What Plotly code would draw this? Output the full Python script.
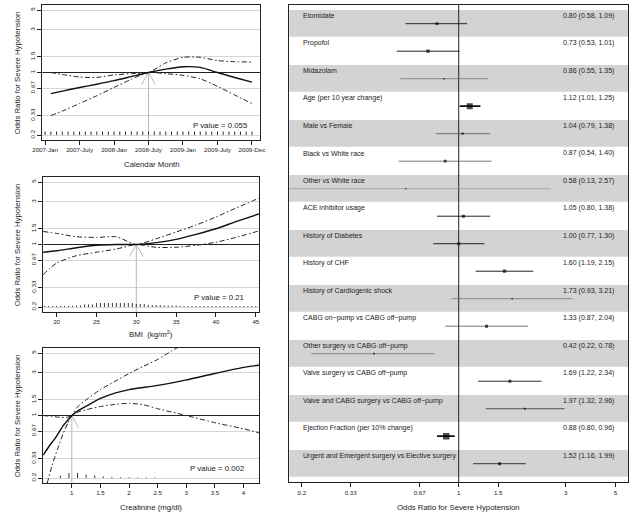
import plotly.graph_objects as go

W, H = 639, 517
FONT = "Liberation Sans, Arial, Helvetica, sans-serif"
INK = "#222222"

# ---------------- shared odds-ratio axis ----------------
or_ticks = [0.2, 0.33, 0.67, 1, 1.5, 3, 5]
or_tick_text = ["0.2", "0.33", "0.67", "1", "1.5", "3", "5"]
LOG_RANGE = [-0.7549, 0.7549]

# ---------------- panel 1 : calendar month ----------------
month_tick_pos = [0, 6, 12, 18, 24, 30, 36]
month_tick_text = ["2007-Jan", "2007-July", "2008-Jan", "2008-July", "2009-Jan", "2009-July", "2009-Dec"]
month_x = [1, 3, 6, 9, 12, 15, 18, 21, 24, 27, 30, 33, 36]
month_or = [0.58, 0.62, 0.68, 0.74, 0.81, 0.90, 1.00, 1.09, 1.16, 1.14, 1.00, 0.88, 0.78]
month_hi = [1.00, 0.95, 0.89, 0.88, 0.94, 0.97, 1.00, 1.28, 1.48, 1.48, 1.36, 1.32, 1.31]
month_lo = [0.33, 0.37, 0.45, 0.55, 0.68, 0.84, 1.00, 0.97, 0.93, 0.85, 0.70, 0.56, 0.45]
month_rug_x = [0, 1, 2, 3, 4, 5, 6, 7, 8, 9, 10, 11, 12, 13, 14, 15, 16, 17, 18,
               19, 20, 21, 22, 23, 24, 25, 26, 27, 28, 29, 30, 31, 32, 33, 34, 35, 36]
month_rug_h = [3.5] * 37
month_ref = 18
month_p = "P value = 0.055"

# ---------------- panel 2 : BMI ----------------
bmi_tick_pos = [20, 25, 30, 35, 40, 45]
bmi_x = [18.3, 20, 22.5, 25, 27.5, 30, 32.5, 35, 37.5, 40, 42.5, 45.4]
bmi_or = [0.82, 0.85, 0.92, 0.98, 1.00, 1.00, 1.05, 1.14, 1.30, 1.50, 1.80, 2.20]
bmi_hi = [1.40, 1.33, 1.22, 1.20, 1.22, 1.00, 1.16, 1.38, 1.65, 2.03, 2.55, 3.30]
bmi_lo = [0.46, 0.62, 0.75, 0.82, 0.89, 1.00, 0.93, 0.93, 0.98, 1.06, 1.20, 1.42]
bmi_rug_x = [18.5, 19, 19.5, 20, 20.5, 21, 21.5, 22, 22.5, 23, 23.5, 24, 24.5,
             25, 25.5, 26, 26.5, 27, 27.5, 28, 28.5, 29, 29.5, 30, 30.5, 31,
             31.5, 32, 32.5, 33, 33.5, 34, 34.5, 35, 35.5, 36, 36.5, 37, 37.5,
             38, 38.5, 39, 39.5, 40, 40.5, 41, 41.5, 42, 42.5, 43, 43.5, 44, 44.5, 45]
bmi_rug_h = [1, 1, 1, 1, 1, 1, 1, 1, 1.5, 1.5, 2.5, 2.5, 2.5,
             4, 4, 4, 4, 4, 4, 4, 4, 4, 4, 3, 3, 3,
             2, 2, 2, 2, 1.5, 1.5, 1.5, 1.5, 1, 1, 1, 1, 1,
             1, 1, 1, 1, 1, 1, 1, 1, 1, 1, 1, 1, 1, 1, 1]
bmi_ref = 30
bmi_p = "P value = 0.21"

# ---------------- panel 3 : creatinine ----------------
cr_tick_pos = [1, 1.5, 2, 2.5, 3, 3.5, 4]
cr_x = [0.5, 0.6, 0.72, 0.85, 1.0, 1.1, 1.25, 1.5, 1.75, 2.0, 2.5, 3.0, 3.5, 4.0, 4.27]
cr_or = [0.36, 0.45, 0.57, 0.77, 1.00, 1.12, 1.27, 1.55, 1.78, 1.95, 2.17, 2.50, 2.95, 3.45, 3.65]
cr_a_x = [0.57, 0.65, 0.75, 0.85, 0.93, 1.0, 1.1, 1.25, 1.5, 1.75, 2.0, 2.25, 2.5, 2.75, 2.9]
cr_a = [0.175, 0.27, 0.42, 0.63, 0.82, 1.00, 1.25, 1.50, 1.95, 2.40, 2.95, 3.55, 4.24, 5.30, 6.00]
cr_b_x = [0.5, 0.75, 0.9, 1.0, 1.1, 1.25, 1.5, 1.75, 2.0, 2.25, 2.5, 3.0, 3.5, 4.0, 4.27]
cr_b = [1.00, 0.96, 0.95, 1.00, 1.09, 1.16, 1.26, 1.33, 1.37, 1.32, 1.19, 1.00, 0.83, 0.71, 0.64]
cr_rug_x = [0.8, 0.95, 1.1, 1.25, 1.4, 1.55, 1.7, 1.85, 2.0, 2.15, 2.3, 2.45]
cr_rug_h = [2.3, 5, 5, 3.3, 2.5, 1.5, 1, 0.8, 0.8, 0.6, 0.6, 0.5]
cr_ref = 1
cr_p = "P value = 0.002"

# ---------------- forest plot ----------------
fp_labels = ["Etomidate", "Propofol", "Midazolam", "Age (per 10 year change)",
             "Male vs Female", "Black vs White race", "Other vs White race",
             "ACE inhibitor usage", "History of Diabetes", "History of CHF",
             "History of Cardiogenic shock", "CABG on\u2212pump vs CABG off\u2212pump",
             "Other surgery vs CABG off\u2212pump", "Valve surgery vs CABG off\u2212pump",
             "Valve and CABG surgery vs CABG off\u2212pump",
             "Ejection Fraction (per 10% change)",
             "Urgent and Emergent surgery vs Elective surgery"]
fp_est = [0.80, 0.73, 0.86, 1.12, 1.04, 0.87, 0.58, 1.05, 1.00, 1.60, 1.73, 1.33, 0.42, 1.69, 1.97, 0.88, 1.52]
fp_lo = [0.58, 0.53, 0.55, 1.01, 0.79, 0.54, 0.13, 0.80, 0.77, 1.19, 0.93, 0.87, 0.22, 1.22, 1.32, 0.80, 1.16]
fp_hi = [1.09, 1.01, 1.35, 1.25, 1.38, 1.40, 2.57, 1.38, 1.30, 2.15, 3.21, 2.04, 0.78, 2.34, 2.96, 0.96, 1.99]

# styles (not data)
box_px = [2.8, 3.3, 1.6, 6, 2.3, 2.8, 1.3, 3, 3, 3.3, 1.5, 3, 1.8, 2.9, 1.9, 6.5, 2.9]
ci_w = [1, 1, 0.7, 1.8, 0.8, 0.8, 0.6, 1, 1, 1, 0.7, 0.8, 0.7, 1, 0.9, 1.8, 1]
ci_col = ["#222", "#222", "#666", "#111", "#555", "#555", "#888", "#222", "#222", "#222",
          "#666", "#555", "#666", "#333", "#444", "#111", "#333"]

fig = go.Figure()
shapes = []
annotations = []


def fx(p):
    return p / W


def fy(p):
    return 1 - p / H


panels = [
    dict(n="", xdom=(33, 256), ydom=(5, 140), xr=[-0.5, 37.4], tv=month_tick_pos, tt=month_tick_text,
         curves=[(month_x, month_hi), (month_x, month_lo)], est=(month_x, month_or),
         rug=(month_rug_x, month_rug_h), ref=month_ref, p=month_p, px=0.682,
         title="Calendar Month", ty=164),
    dict(n="2", xdom=(34, 255), ydom=(177, 312), xr=[18.32, 45.4], tv=bmi_tick_pos,
         tt=[str(v) for v in bmi_tick_pos],
         curves=[(bmi_x, bmi_hi), (bmi_x, bmi_lo)], est=(bmi_x, bmi_or),
         rug=(bmi_rug_x, bmi_rug_h), ref=bmi_ref, p=bmi_p, px=0.688,
         title="BMI\u00a0\u00a0(kg/m<sup>2</sup>)", ty=334),
    dict(n="3", xdom=(34, 255), ydom=(348, 483), xr=[0.5, 4.27], tv=cr_tick_pos,
         tt=[("%g" % v) for v in cr_tick_pos],
         curves=[(cr_a_x, cr_a), (cr_b_x, cr_b)], est=(cr_x, cr_or),
         rug=(cr_rug_x, cr_rug_h), ref=cr_ref, p=cr_p, px=0.67,
         title="Creatinine (mg/dl)", ty=507),
]

DASHDOT = "5px,2.5px,1.5px,2.5px"
ybottom = 10 ** LOG_RANGE[0]
ARROW = "#b8b8b8"
HEAD_W, HEAD_H = 7.0, 12.0  # arrowhead half-width / length in px

for pn in panels:
    n = pn["n"]
    xa, ya = "x" + n, "y" + n
    axx = "xaxis" + n
    axy = "yaxis" + n
    fig.update_layout(**{
        axx: dict(domain=[fx(pn["xdom"][0]), fx(pn["xdom"][1])], anchor=ya, range=pn["xr"],
                  tickvals=pn["tv"], ticktext=pn["tt"], ticks="outside", ticklen=4,
                  tickcolor=INK, tickfont=dict(size=6.2, color=INK, family=FONT),
                  showline=True, mirror=True, linecolor=INK, linewidth=1,
                  showgrid=False, zeroline=False),
        axy: dict(domain=[fy(pn["ydom"][1]), fy(pn["ydom"][0])], anchor=xa, type="log",
                  range=LOG_RANGE, tickvals=or_ticks, ticktext=or_tick_text, tickangle=-90,
                  ticks="outside", ticklen=4, tickcolor=INK,
                  tickfont=dict(size=6.2, color=INK, family=FONT),
                  showline=True, mirror=True, linecolor=INK, linewidth=1,
                  showgrid=True, gridcolor="#d6d6d6", gridwidth=1, zeroline=False),
    })
    # pixel -> data conversion for the arrowhead decoration
    x_per_px = (pn["xr"][1] - pn["xr"][0]) / (pn["xdom"][1] - pn["xdom"][0])
    logy_per_px = (LOG_RANGE[1] - LOG_RANGE[0]) / (pn["ydom"][1] - pn["ydom"][0])
    ref = pn["ref"]
    head_y = 10 ** (-HEAD_H * logy_per_px)
    # reference line at OR = 1
    fig.add_trace(go.Scatter(x=pn["xr"], y=[1, 1], mode="lines", xaxis=xa, yaxis=ya,
                             line=dict(color=INK, width=1), hoverinfo="skip", showlegend=False))
    # reference arrow (shaft + open head)
    fig.add_trace(go.Scatter(
        x=[ref, ref, None, ref - HEAD_W * x_per_px, ref, ref + HEAD_W * x_per_px],
        y=[ybottom, 1, None, head_y, 1, head_y], mode="lines", xaxis=xa, yaxis=ya,
        line=dict(color=ARROW, width=1), hoverinfo="skip", showlegend=False))
    # confidence curves
    for cx, cy in pn["curves"]:
        fig.add_trace(go.Scatter(x=cx, y=cy, mode="lines", xaxis=xa, yaxis=ya,
                                 line=dict(color=INK, width=1, dash=DASHDOT, shape="spline", smoothing=0.6),
                                 hoverinfo="skip", showlegend=False))
    ex, ey = pn["est"]
    fig.add_trace(go.Scatter(x=ex, y=ey, mode="lines", xaxis=xa, yaxis=ya,
                             line=dict(color="#111", width=1.4, shape="spline", smoothing=0.6),
                             hoverinfo="skip", showlegend=False))
    # rug
    rx, rh = pn["rug"]
    for xv, hv in zip(rx, rh):
        shapes.append(dict(type="line", xref=xa, yref=ya, ysizemode="pixel", yanchor=0.2,
                           x0=xv, x1=xv, y0=0, y1=hv, line=dict(color="#333", width=1)))
    # p value
    annotations.append(dict(text=pn["p"], xref=xa + " domain", yref=ya + " domain", x=pn["px"], y=0.108,
                            xanchor="left", yanchor="middle", showarrow=False,
                            font=dict(size=7.8, color=INK, family=FONT)))
    # axis titles
    annotations.append(dict(text=pn["title"], xref="paper", yref="paper",
                            x=fx((pn["xdom"][0] + pn["xdom"][1]) / 2), y=fy(pn["ty"]),
                            xanchor="center", yanchor="middle", showarrow=False,
                            font=dict(size=7.8, color=INK, family=FONT)))
    annotations.append(dict(text="Odds Ratio for Severe Hypotension", xref="paper", yref="paper",
                            x=fx(8), y=fy((pn["ydom"][0] + pn["ydom"][1]) / 2), textangle=-90,
                            xanchor="center", yanchor="middle", showarrow=False,
                            font=dict(size=7.8, color=INK, family=FONT)))

# ---------------- forest panel ----------------
nrow = len(fp_labels)
fig.update_layout(
    xaxis4=dict(domain=[fx(286), fx(633)], anchor="y4", type="log", range=LOG_RANGE,
                tickvals=or_ticks, ticktext=or_tick_text, ticks="outside", ticklen=4, tickcolor=INK,
                tickfont=dict(size=6.2, color=INK, family=FONT), showline=True, mirror=True,
                linecolor=INK, linewidth=1.2, showgrid=False, zeroline=False),
    yaxis4=dict(domain=[fy(482), fy(5)], anchor="x4", range=[nrow + 0.165, -0.18],
                showticklabels=False, ticks="", showline=True, mirror=True, linecolor=INK,
                linewidth=1.2, showgrid=False, zeroline=False),
)
for i in range(nrow):
    if i % 2 == 0:
        shapes.append(dict(type="rect", xref="x4 domain", yref="y4", x0=0, x1=1, y0=i, y1=i + 0.97,
                           fillcolor="#d3d3d3", line=dict(width=0), layer="below"))
fig.add_trace(go.Scatter(x=[1, 1], y=[nrow + 0.165, -0.18], mode="lines", xaxis="x4", yaxis="y4",
                         line=dict(color=INK, width=1), hoverinfo="skip", showlegend=False))
for i in range(nrow):
    fig.add_trace(go.Scatter(x=[fp_lo[i], fp_hi[i]], y=[i + 0.5, i + 0.5], mode="lines",
                             xaxis="x4", yaxis="y4", line=dict(color=ci_col[i], width=ci_w[i]),
                             hoverinfo="skip", showlegend=False))
    annotations.append(dict(text=fp_labels[i], xref="x4 domain", yref="y4", x=0.035, y=i + 0.21,
                            xanchor="left", yanchor="middle", showarrow=False,
                            font=dict(size=7, color=INK, family=FONT)))
    annotations.append(dict(text="%.2f (%.2f, %.2f)" % (fp_est[i], fp_lo[i], fp_hi[i]),
                            xref="x4 domain", yref="y4", x=0.965, y=i + 0.21,
                            xanchor="right", yanchor="middle", showarrow=False,
                            font=dict(size=7, color=INK, family=FONT)))
fig.add_trace(go.Scatter(x=fp_est, y=[i + 0.5 for i in range(nrow)], mode="markers",
                         xaxis="x4", yaxis="y4",
                         marker=dict(symbol="square", size=box_px, color="#000", line=dict(width=0)),
                         hoverinfo="skip", showlegend=False))
annotations.append(dict(text="Odds Ratio for Severe Hypotension", xref="paper", yref="paper",
                        x=fx(459.5), y=fy(507), xanchor="center", yanchor="middle", showarrow=False,
                        font=dict(size=7.8, color=INK, family=FONT)))

fig.update_layout(width=W, height=H, autosize=False, margin=dict(l=0, r=0, t=0, b=0, pad=0),
                  paper_bgcolor="white", plot_bgcolor="white", showlegend=False,
                  font=dict(family=FONT, color=INK), shapes=shapes, annotations=annotations)

fig.write_html("out.html", config={"displayModeBar": False, "staticPlot": True},
               post_script="document.body.style.margin='0';")
